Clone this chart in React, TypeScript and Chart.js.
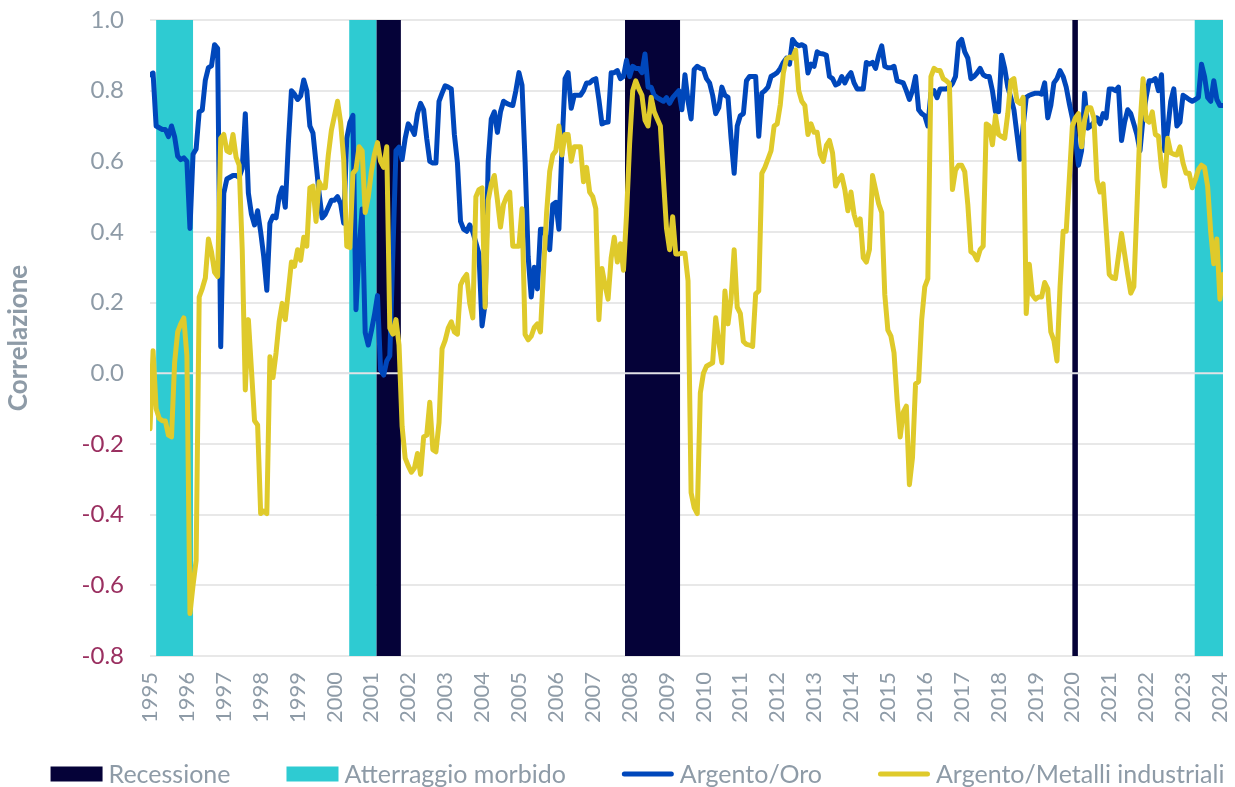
import React, { useEffect, useRef } from 'react';
import { Chart, registerables } from 'chart.js';

Chart.register(...registerables);

const START_YEAR = 1995;
const FONT = 'Lato, "Noto Sans", sans-serif';
const GRAY = '#8e9ba7';
const MAROON = '#9a2f60';
const BLUE = '#0047bb';
const YELLOW = '#dfca2b';
const NAVY = '#050238';
const CYAN = '#2ecbd2';

// Monthly correlation values, Jan 1995 .. Feb 2024 (one row per year)
const silverGold: number[] = [
  0.845, 0.85, 0.70, 0.695, 0.69, 0.69, 0.67, 0.70, 0.67, 0.615, 0.605, 0.61,
  0.60, 0.41, 0.62, 0.635, 0.74, 0.745, 0.83, 0.865, 0.87, 0.93, 0.92, 0.075,
  0.51, 0.55, 0.555, 0.56, 0.56, 0.555, 0.58, 0.735, 0.51, 0.45, 0.42, 0.46,
  0.40, 0.33, 0.235, 0.425, 0.445, 0.44, 0.50, 0.525, 0.47, 0.65, 0.80, 0.79,
  0.775, 0.785, 0.83, 0.80, 0.70, 0.68, 0.595, 0.51, 0.44, 0.45, 0.47, 0.49,
  0.49, 0.50, 0.48, 0.425, 0.665, 0.71, 0.73, 0.18, 0.35, 0.465, 0.115, 0.08,
  0.12, 0.165, 0.22, 0.01, -0.005, 0.035, 0.05, 0.34, 0.63, 0.64, 0.605, 0.665,
  0.706, 0.694, 0.676, 0.735, 0.764, 0.746, 0.665, 0.60, 0.595, 0.595, 0.77, 0.793,
  0.814, 0.81, 0.805, 0.676, 0.595, 0.43, 0.408, 0.402, 0.42, 0.40, 0.37, 0.338,
  0.134, 0.198, 0.60, 0.72, 0.74, 0.682, 0.74, 0.77, 0.764, 0.76, 0.758, 0.80,
  0.851, 0.816, 0.60, 0.33, 0.216, 0.30, 0.239, 0.408, 0.408, 0.38, 0.35, 0.478,
  0.484, 0.408, 0.641, 0.834, 0.851, 0.75, 0.787, 0.787, 0.787, 0.80, 0.822, 0.822,
  0.83, 0.834, 0.775, 0.706, 0.71, 0.711, 0.851, 0.851, 0.857, 0.834, 0.84, 0.886,
  0.84, 0.869, 0.863, 0.863, 0.851, 0.904, 0.81, 0.81, 0.787, 0.78, 0.775, 0.77,
  0.78, 0.764, 0.78, 0.79, 0.80, 0.746, 0.845, 0.77, 0.72, 0.86, 0.869, 0.863,
  0.86, 0.834, 0.822, 0.787, 0.735, 0.752, 0.81, 0.787, 0.781, 0.665, 0.566, 0.70,
  0.729, 0.735, 0.828, 0.84, 0.84, 0.84, 0.671, 0.793, 0.80, 0.81, 0.84, 0.845,
  0.851, 0.863, 0.88, 0.892, 0.875, 0.945, 0.933, 0.927, 0.93, 0.925, 0.85, 0.875,
  0.869, 0.91, 0.905, 0.904, 0.90, 0.84, 0.834, 0.816, 0.82, 0.84, 0.822, 0.84,
  0.851, 0.822, 0.805, 0.805, 0.805, 0.88, 0.875, 0.88, 0.863, 0.90, 0.927, 0.869,
  0.865, 0.865, 0.869, 0.828, 0.825, 0.822, 0.80, 0.775, 0.80, 0.84, 0.746, 0.735,
  0.729, 0.70, 0.793, 0.80, 0.78, 0.805, 0.805, 0.805, 0.81, 0.82, 0.84, 0.935,
  0.945, 0.91, 0.892, 0.834, 0.84, 0.85, 0.863, 0.845, 0.84, 0.84, 0.80, 0.74,
  0.74, 0.90, 0.863, 0.81, 0.78, 0.746, 0.676, 0.606, 0.70, 0.781, 0.787, 0.79,
  0.793, 0.793, 0.79, 0.822, 0.723, 0.758, 0.822, 0.834, 0.857, 0.84, 0.81, 0.764,
  0.723, 0.665, 0.589, 0.63, 0.793, 0.694, 0.70, 0.71, 0.723, 0.706, 0.735, 0.723,
  0.805, 0.805, 0.80, 0.81, 0.659, 0.711, 0.746, 0.735, 0.706, 0.676, 0.63, 0.723,
  0.781, 0.828, 0.828, 0.834, 0.80, 0.845, 0.63, 0.688, 0.77, 0.805, 0.70, 0.711,
  0.787, 0.781, 0.775, 0.77, 0.775, 0.781, 0.875, 0.84, 0.781, 0.77, 0.828, 0.775,
  0.758, 0.758,
];

const silverIndustrial: number[] = [
  -0.157, 0.064, -0.10, -0.128, -0.134, -0.135, -0.175, -0.18, 0.03, 0.117, 0.14, 0.157,
  0.05, -0.68, -0.60, -0.53, 0.216, 0.24, 0.27, 0.38, 0.344, 0.286, 0.274, 0.665,
  0.676, 0.63, 0.625, 0.676, 0.612, 0.589, 0.35, -0.047, 0.152, 0.01, -0.134, -0.146,
  -0.397, -0.39, -0.397, 0.047, -0.012, 0.058, 0.146, 0.198, 0.152, 0.233, 0.315, 0.303,
  0.35, 0.32, 0.385, 0.36, 0.525, 0.53, 0.43, 0.542, 0.525, 0.525, 0.618, 0.688,
  0.729, 0.77, 0.711, 0.606, 0.36, 0.356, 0.566, 0.577, 0.641, 0.63, 0.455, 0.50,
  0.571, 0.62, 0.653, 0.60, 0.583, 0.641, 0.128, 0.111, 0.152, 0.08, -0.15, -0.24,
  -0.262, -0.28, -0.268, -0.227, -0.286, -0.18, -0.175, -0.082, -0.216, -0.222, -0.14, 0.07,
  0.093, 0.128, 0.146, 0.117, 0.111, 0.25, 0.268, 0.28, 0.198, 0.157, 0.50, 0.52,
  0.525, 0.187, 0.49, 0.536, 0.56, 0.49, 0.414, 0.478, 0.50, 0.513, 0.36, 0.36,
  0.36, 0.466, 0.11, 0.095, 0.105, 0.13, 0.14, 0.117, 0.29, 0.455, 0.571, 0.618,
  0.63, 0.70, 0.618, 0.676, 0.676, 0.60, 0.641, 0.641, 0.641, 0.542, 0.583, 0.513,
  0.50, 0.466, 0.152, 0.297, 0.25, 0.21, 0.327, 0.385, 0.315, 0.367, 0.292, 0.45,
  0.65, 0.80, 0.828, 0.805, 0.787, 0.717, 0.70, 0.781, 0.74, 0.72, 0.70, 0.55,
  0.41, 0.35, 0.443, 0.338, 0.338, 0.34, 0.34, 0.262, -0.338, -0.38, -0.397, -0.055,
  0.0, 0.02, 0.025, 0.03, 0.157, 0.09, 0.03, 0.233, 0.14, 0.21, 0.35, 0.187,
  0.17, 0.09, 0.082, 0.08, 0.076, 0.225, 0.233, 0.566, 0.583, 0.606, 0.63, 0.70,
  0.706, 0.76, 0.85, 0.89, 0.895, 0.892, 0.915, 0.80, 0.77, 0.758, 0.676, 0.706,
  0.682, 0.682, 0.62, 0.60, 0.645, 0.659, 0.624, 0.53, 0.548, 0.56, 0.52, 0.46,
  0.513, 0.45, 0.42, 0.437, 0.327, 0.315, 0.35, 0.56, 0.52, 0.48, 0.455, 0.222,
  0.122, 0.105, 0.058, -0.076, -0.18, -0.11, -0.093, -0.315, -0.239, -0.03, -0.023, 0.152,
  0.245, 0.268, 0.84, 0.863, 0.857, 0.857, 0.834, 0.828, 0.82, 0.52, 0.575, 0.589,
  0.589, 0.571, 0.478, 0.344, 0.338, 0.321, 0.35, 0.36, 0.706, 0.70, 0.647, 0.729,
  0.676, 0.67, 0.665, 0.735, 0.828, 0.834, 0.77, 0.764, 0.781, 0.169, 0.309, 0.222,
  0.21, 0.216, 0.216, 0.257, 0.239, 0.117, 0.093, 0.035, 0.245, 0.402, 0.402, 0.548,
  0.70, 0.723, 0.735, 0.641, 0.717, 0.752, 0.752, 0.723, 0.548, 0.513, 0.536, 0.408,
  0.28, 0.27, 0.268, 0.332, 0.396, 0.338, 0.28, 0.227, 0.245, 0.466, 0.70, 0.834,
  0.717, 0.711, 0.74, 0.676, 0.671, 0.58, 0.53, 0.665, 0.624, 0.62, 0.618, 0.641,
  0.595, 0.566, 0.566, 0.525, 0.548, 0.577, 0.589, 0.583, 0.53, 0.40, 0.31, 0.38,
  0.21, 0.28,
];

// Shaded periods, in months since Jan 1995
const recessions: [number, number][] = [[73.7, 81.6], [154.5, 172.4], [300, 301.8]];
const softLandings: [number, number][] = [[2, 14], [64.8, 73.7], [339.8, 349]];

const seriesNames = ['Argento/Oro', 'Argento/Metalli industriali'];
const bandNames = ['Recessione', 'Atterraggio morbido'];

const legendEntries = [
  { label: bandNames[0], color: NAVY, kind: 'box' },
  { label: bandNames[1], color: CYAN, kind: 'box' },
  { label: seriesNames[0], color: BLUE, kind: 'line' },
  { label: seriesNames[1], color: YELLOW, kind: 'line' },
];

const bandsPlugin = {
  id: 'bands',
  beforeDatasetsDraw(chart: any) {
    const { ctx, chartArea, scales } = chart;
    const { top, bottom, left, right } = chartArea;
    const x = scales.x;
    const y = scales.y;
    ctx.save();
    const paint = (list: [number, number][], color: string) => {
      list.forEach(([s, e]) => {
        const x0 = Math.max(left, x.getPixelForValue(s));
        const x1 = Math.min(right, x.getPixelForValue(e));
        ctx.fillStyle = color;
        ctx.fillRect(x0, top, x1 - x0, bottom - top);
      });
    };
    paint(softLandings, CYAN);
    paint(recessions, NAVY);
    const y0 = y.getPixelForValue(0);
    ctx.strokeStyle = '#e2e2e6';
    ctx.lineWidth = 2;
    ctx.beginPath();
    ctx.moveTo(left, y0);
    ctx.lineTo(right, y0);
    ctx.stroke();
    ctx.restore();
  },
};

const legendPlugin = {
  id: 'bottomLegend',
  afterDraw(chart: any) {
    const ctx = chart.ctx;
    const SYMBOL_W = 52;
    const GAP = 6;
    const SPACING = 56;
    ctx.save();
    ctx.font = `25px ${FONT}`;
    ctx.textBaseline = 'middle';
    const widths = legendEntries.map((e) => SYMBOL_W + GAP + ctx.measureText(e.label).width);
    const total = widths.reduce((a, b) => a + b, 0) + SPACING * (legendEntries.length - 1);
    let x = (chart.width + 40) / 2 - total / 2;
    const yc = chart.height - 13;
    legendEntries.forEach((e, i) => {
      if (e.kind === 'box') {
        ctx.fillStyle = e.color;
        ctx.fillRect(x, yc - 7.5, SYMBOL_W, 15);
      } else {
        ctx.strokeStyle = e.color;
        ctx.lineWidth = 5;
        ctx.lineCap = 'round';
        ctx.beginPath();
        ctx.moveTo(x + 2.5, yc);
        ctx.lineTo(x + SYMBOL_W - 2.5, yc);
        ctx.stroke();
      }
      ctx.fillStyle = GRAY;
      ctx.fillText(e.label, x + SYMBOL_W + GAP, yc + 1);
      x += widths[i] + SPACING;
    });
    ctx.restore();
  },
};

export default function App() {
  const ref = useRef<HTMLCanvasElement>(null);

  useEffect(() => {
    document.body.style.margin = '0';
    if (!ref.current) return;
    const toPoints = (arr: number[]) => arr.map((v, i) => ({ x: i, y: v }));
    const chart = new Chart(ref.current, {
      type: 'line',
      data: {
        datasets: [
          {
            label: seriesNames[0],
            data: toPoints(silverGold),
            borderColor: BLUE,
            backgroundColor: BLUE,
            borderWidth: 5,
            pointRadius: 0,
            order: 1,
          },
          {
            label: seriesNames[1],
            data: toPoints(silverIndustrial),
            borderColor: YELLOW,
            backgroundColor: YELLOW,
            borderWidth: 5,
            pointRadius: 0,
            order: 0,
          },
        ],
      },
      options: {
        animation: false,
        responsive: true,
        maintainAspectRatio: false,
        events: [],
        layout: { padding: { left: 0, right: 12, top: 20, bottom: 61 } },
        elements: {
          line: { tension: 0, borderJoinStyle: 'round', borderCapStyle: 'round' },
          point: { radius: 0 },
        },
        scales: {
          x: {
            type: 'linear',
            min: 0,
            max: silverGold.length - 1,
            grid: { display: false, drawTicks: false },
            border: { display: false },
            ticks: {
              stepSize: 12,
              includeBounds: false,
              autoSkip: false,
              minRotation: 90,
              maxRotation: 90,
              padding: 16,
              color: GRAY,
              font: { family: FONT, size: 22 },
              callback: (v: any) => (Number(v) % 12 === 0 ? String(START_YEAR + Number(v) / 12) : ''),
            },
            afterFit: (s: any) => {
              s.height = 70;
              s.paddingLeft = 0;
              s.paddingRight = 0;
            },
          },
          y: {
            min: -0.8,
            max: 1.0,
            grid: { color: '#e8e8e8', lineWidth: 2, drawTicks: false },
            border: { display: false },
            ticks: {
              stepSize: 0.2,
              padding: 26,
              color: (c: any) => (c.tick && c.tick.value < -1e-9 ? MAROON : GRAY),
              font: { family: FONT, size: 24 },
              callback: (v: any) => (Math.abs(Number(v)) < 1e-9 ? '0.0' : Number(v).toFixed(1)),
            },
            title: {
              display: true,
              text: 'Correlazione',
              color: GRAY,
              font: { family: FONT, size: 26, weight: 'bold' },
              padding: { top: 3, bottom: 0 },
            },
            afterFit: (s: any) => {
              s.width = 150;
              s.paddingTop = 0;
              s.paddingBottom = 0;
            },
          },
        },
        plugins: {
          tooltip: { enabled: false },
          legend: { display: false },
        },
      } as any,
      plugins: [bandsPlugin, legendPlugin],
    });
    return () => chart.destroy();
  }, []);

  return (
    <div style={{ position: 'relative', width: 1235, height: 787 }}>
      <canvas ref={ref} />
    </div>
  );
}
